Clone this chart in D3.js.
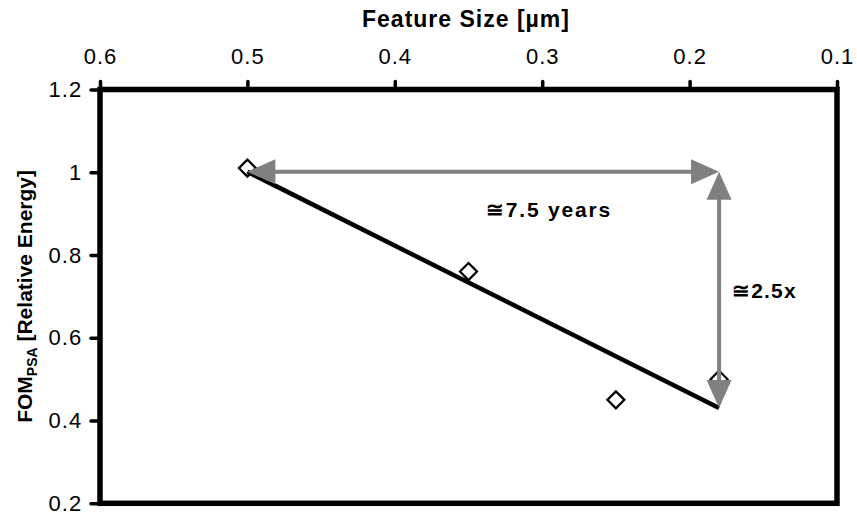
<!DOCTYPE html>
<html>
<head>
<meta charset="utf-8">
<script src="https://cdn.jsdelivr.net/npm/d3@7"></script>
<style>
  html, body { margin: 0; padding: 0; background: #fff; }
  svg { display: block; font-family: "Liberation Sans", Arial, sans-serif; }
</style>
</head>
<body>
<svg id="chart" width="857" height="516"></svg>
<script>
// Feature size (µm) vs. relative energy figure of merit
const featureSize = [0.5, 0.35, 0.25, 0.18];
const fomPSA = [1.01, 0.76, 0.45, 0.5];
const xTicks = [0.6, 0.5, 0.4, 0.3, 0.2, 0.1];
const yTicks = [0.2, 0.4, 0.6, 0.8, 1.0, 1.2];
const annotations = ["\u22457.5 years", "\u22452.5x"];

const svg = d3.select("#chart");
const W = 857, H = 516;
const margin = { left: 100, right: 20, top: 89.5, bottom: 12.7 };

const x = d3.scaleLinear().domain([0.6, 0.1]).range([margin.left, W - margin.right]);
const y = d3.scaleLinear().domain([0.2, 1.2]).range([H - margin.bottom, margin.top]);

// Least-squares linear trend through the points
const mx = d3.mean(featureSize), my = d3.mean(fomPSA);
const sxy = d3.sum(featureSize, (v, i) => (v - mx) * (fomPSA[i] - my));
const sxx = d3.sum(featureSize, v => (v - mx) ** 2);
const slope = sxy / sxx, intercept = my - slope * mx;
const fit = v => intercept + slope * v;
const xMax = d3.max(featureSize), xMin = d3.min(featureSize);

const FONT = "'Liberation Sans', Arial, sans-serif";

// Axes (top and left), ticks pointing outward
const xAxis = d3.axisTop(x).tickValues(xTicks).tickFormat(d3.format(".1f"))
  .tickSize(8).tickPadding(18);
const yAxis = d3.axisLeft(y).tickValues(yTicks)
  .tickFormat(d => d === 1 ? "1" : d3.format(".1f")(d))
  .tickSize(9).tickPadding(11);

const gx = svg.append("g").attr("transform", `translate(0,${margin.top})`).call(xAxis);
const gy = svg.append("g").attr("transform", `translate(${margin.left},0)`).call(yAxis);
[gx, gy].forEach(g => {
  g.attr("font-size", null).attr("font-family", null);
  g.select(".domain").remove();
  g.selectAll(".tick line").attr("stroke", "#000").attr("stroke-width", 3.5)
    .attr("stroke-linecap", "round");
  g.selectAll(".tick text").attr("fill", "#000")
    .style("font-size", "22px").style("letter-spacing", "1px").style("font-family", FONT);
});
gy.selectAll(".tick text").attr("dx", "0.1em");

// Plot frame
svg.append("rect")
  .attr("x", x(0.6)).attr("y", y(1.2))
  .attr("width", x(0.1) - x(0.6)).attr("height", y(0.2) - y(1.2))
  .attr("fill", "none").attr("stroke", "#000").attr("stroke-width", 5.5);

// Axis titles
svg.append("text")
  .attr("x", 466).attr("y", 27)
  .attr("text-anchor", "middle")
  .style("font-size", "23px").style("font-weight", "bold").style("letter-spacing", "1px")
  .text("Feature Size [\u00b5m]");

const yt = svg.append("text")
  .attr("transform", `translate(32,${(y(0.2) + y(1.2)) / 2}) rotate(-90)`)
  .attr("text-anchor", "middle")
  .style("font-size", "21px").style("font-weight", "bold");
yt.append("tspan").text("FOM");
yt.append("tspan").attr("dy", 5).style("font-size", "14px").text("PSA");
yt.append("tspan").attr("dy", -5).text(" [Relative Energy]");

// Trend line
svg.append("line")
  .attr("x1", x(xMax)).attr("y1", y(fit(xMax)))
  .attr("x2", x(xMin)).attr("y2", y(fit(xMin)))
  .attr("stroke", "#000").attr("stroke-width", 4.5);

// Data markers (open diamonds)
svg.append("g").selectAll("path")
  .data(featureSize.map((v, i) => [v, fomPSA[i]]))
  .join("path")
  .attr("transform", d => `translate(${x(d[0])},${y(d[1])})`)
  .attr("d", "M0,-8.5 L8.5,0 L0,8.5 L-8.5,0 Z")
  .attr("fill", "none").attr("stroke", "#000").attr("stroke-width", 2.2);

// Double-headed gray arrows
function arrow(x1, y1, x2, y2) {
  const len = Math.hypot(x2 - x1, y2 - y1);
  const ux = (x2 - x1) / len, uy = (y2 - y1) / len;
  const hl = 28, hw = 12.5;
  const g = svg.append("g").attr("fill", "#808080");
  g.append("line")
    .attr("x1", x1 + ux * hl * 0.9).attr("y1", y1 + uy * hl * 0.9)
    .attr("x2", x2 - ux * hl * 0.9).attr("y2", y2 - uy * hl * 0.9)
    .attr("stroke", "#808080").attr("stroke-width", 4);
  const head = (tx, ty, dx, dy) => {
    const bx = tx - dx * hl, by = ty - dy * hl;
    g.append("path").attr("d",
      `M${tx},${ty} L${bx - dy * hw},${by + dx * hw} L${bx + dy * hw},${by - dx * hw} Z`);
  };
  head(x2, y2, ux, uy);
  head(x1, y1, -ux, -uy);
}
const topY = fit(xMax), botY = fit(xMin);
arrow(x(xMax), y(topY), x(xMin), y(topY));
arrow(x(xMin), y(topY), x(xMin), y(botY));

// Annotation labels
svg.append("text")
  .attr("x", 486).attr("y", 217)
  .style("font-size", "21px").style("font-weight", "bold").style("letter-spacing", "1.8px")
  .text(annotations[0]);
svg.append("text")
  .attr("x", 732).attr("y", 298)
  .style("font-size", "21px").style("font-weight", "bold").style("letter-spacing", "1.2px")
  .text(annotations[1]);
</script>
</body>
</html>
